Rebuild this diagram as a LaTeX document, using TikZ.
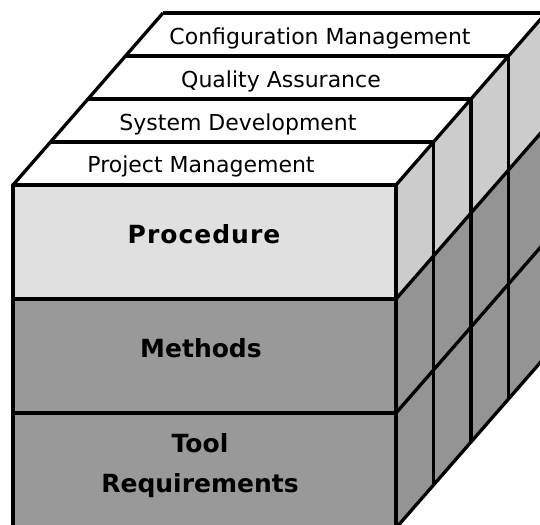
\documentclass[tikz,border=0pt]{standalone}
\usepackage{fontspec}
\setmainfont{DejaVu Sans}
\tikzset{edge/.style={line width=3.3pt,line join=round}}
\tikzset{layer/.style={font=\fontsize{22}{24}\selectfont,inner sep=0pt}}
\tikzset{part/.style={font=\bfseries\fontsize{25}{40}\selectfont,align=center,inner sep=0pt}}

\begin{document}
\begin{tikzpicture}[x=1pt,y=-1pt]
\useasboundingbox (0,0) rectangle (540,524);
\clip (0,0) rectangle (540,524);
% side of the box
\fill[black!20] (396,185) -- ++(150,-172) -- ++(0,114) -- (396,299) -- cycle;
\fill[black!42] (396,299) -- ++(150,-172) -- ++(0,229) -- (396,528) -- cycle;
% front of the box
\fill[black!12] (13,185) rectangle (396,299);
\fill[black!40] (13,299) rectangle (396,528);
\fill[white] (13,185) -- (163,13) -- (546,13) -- (396,185) -- cycle;
% slices on top and down the side
\foreach \i in {1,...,4}
  \draw[edge] ({13+37.5*\i},{185-43*\i}) -- ++(383,0) -- ++(0,343);
\foreach \y in {185,299,413,528}
  \draw[edge] (396,\y) -- ++(150,-172);
\foreach \y in {299,413}
  \draw[edge] (13,\y) -- (396,\y);
\draw[edge] (13,185) rectangle (396,528);
\draw[edge] (13,185) -- (163,13);
% labels
\node[layer] (cm) at (320,38) {Configuration Management};
\node[layer] (qa) at (281,81) {Quality Assurance};
\node[layer] (sd) at (238,124) {System Development};
\node[layer] (pm) at (201,166) {Project Management};
\node[part] (proc) at (204,234) {\addfontfeature{LetterSpace=4}Procedure};
\node[part] (meth) at (201,348) {Methods};
\node[part] (tool) at (200,466) {Tool\\Requirements};
\end{tikzpicture}
\end{document}
